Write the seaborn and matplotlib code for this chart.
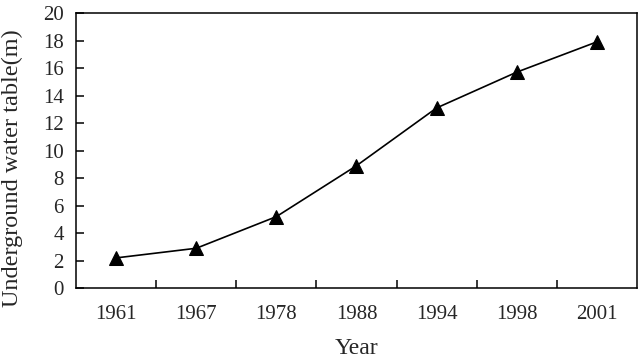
import matplotlib
matplotlib.use("Agg")
import matplotlib.pyplot as plt
import numpy as np
import pandas as pd
import seaborn as sns

# data
years = ["1961", "1967", "1978", "1988", "1994", "1998", "2001"]
water_table = [2.2, 2.9, 5.2, 8.9, 13.1, 15.7, 17.9]
y_ticks = list(range(0, 21, 2))

df = pd.DataFrame({"Year": years, "Depth": water_table})

sns.set_style("white")
plt.rcParams["font.family"] = ["Liberation Serif", "DejaVu Serif"]

fig = plt.figure(figsize=(6.4, 3.62), dpi=100)
ax = fig.add_axes([0.119, 0.204, 0.876, 0.760])

sns.lineplot(data=df, x="Year", y="Depth", ax=ax, color="black",
             marker="^", markersize=10, markeredgecolor="black",
             linewidth=1.2, sort=False)

n = len(years)
ax.set_xlim(-0.5, n - 0.5)
ax.set_ylim(0, 20)
ax.set_yticks(y_ticks)
ax.set_xticks(np.arange(n))
ax.set_xticklabels(years)
ax.set_xticks(np.arange(n - 1) + 0.5, minor=True)

ax.tick_params(axis="x", which="major", length=0, pad=12, labelsize=15)
ax.tick_params(axis="x", which="minor", direction="in", length=6, width=1.1,
               bottom=True, color="black")
ax.tick_params(axis="y", direction="in", length=6, width=1.1, pad=9,
               labelsize=15, left=True, color="black")

for s in ax.spines.values():
    s.set_visible(True)
    s.set_color("black")
    s.set_linewidth(1.1)

ax.set_xlabel("Year", fontsize=17, labelpad=10)
ax.set_ylabel("Underground water table(m)", fontsize=17.5)
# the label sits a little below the axes centre in the original
ax.yaxis.set_label_coords(-0.094, 0.435)

fig.savefig("out.png", dpi=100)
